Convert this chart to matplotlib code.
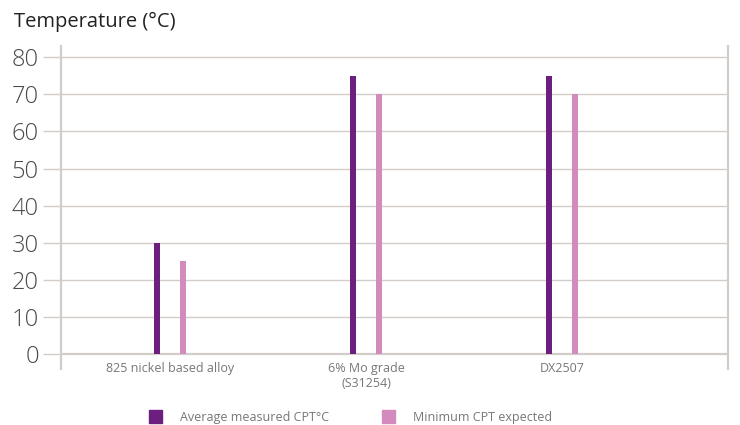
import matplotlib
matplotlib.use("Agg")
import matplotlib.pyplot as plt
import numpy as np
from matplotlib.patches import Patch

plt.rcParams['font.family'] = ['Open Sans', 'DejaVu Sans']

categories = ["825 nickel based alloy", "6% Mo grade\n(S31254)", "DX2507"]
avg_measured = [30, 75, 75]
min_expected = [25, 70, 70]
series_names = ["Average measured CPT°C", "Minimum CPT expected"]
yticks = [0, 10, 20, 30, 40, 50, 60, 70, 80]

dark = "#6c1f7e"
light = "#d38bbd"
grid_c = "#d3cdca"

fig = plt.figure(figsize=(7.4, 4.25), dpi=100)
ax = fig.add_axes([61/740, 1-369/425, (728-61)/740, (369-46)/425])

x = np.arange(len(categories))
off = 0.066
w = 0.027
ax.bar(x - off, avg_measured, width=w, color=dark, zorder=3)
ax.bar(x + off, min_expected, width=w, color=light, zorder=3)

ax.set_xlim(-0.556, 2.847)
ax.set_ylim(-4, 83)
ax.set_yticks(yticks)
ax.set_yticklabels([str(v) for v in yticks], fontsize=17, color="#4a4a4a", fontweight='light')
ax.tick_params(axis='y', length=13, width=1, color=grid_c, pad=3)
for v in yticks:
    ax.axhline(v, color=grid_c, lw=1.6 if v == 0 else 1, zorder=1)

ax.set_xticks(x)
ax.set_xticklabels(categories, fontsize=9, color="#777777", va='top')
ax.tick_params(axis='x', length=0, pad=-5)

for s in ['top', 'bottom']:
    ax.spines[s].set_visible(False)
for s in ['left', 'right']:
    ax.spines[s].set_color(grid_c)
    ax.spines[s].set_linewidth(1.6)

fig.text(14/740, 1-22/425, "Temperature (°C)", fontsize=14.5, color="#222222", va='center', ha='left')

handles = [Patch(color=dark), Patch(color=light)]
fig.legend(handles, series_names, loc='center', bbox_to_anchor=(0.474, 1-417/425),
           ncol=2, frameon=False, fontsize=9, labelcolor="#777777",
           handlelength=1.0, handleheight=1.2, columnspacing=4.2, handletextpad=1.5)

fig.savefig("out.png", dpi=100)
